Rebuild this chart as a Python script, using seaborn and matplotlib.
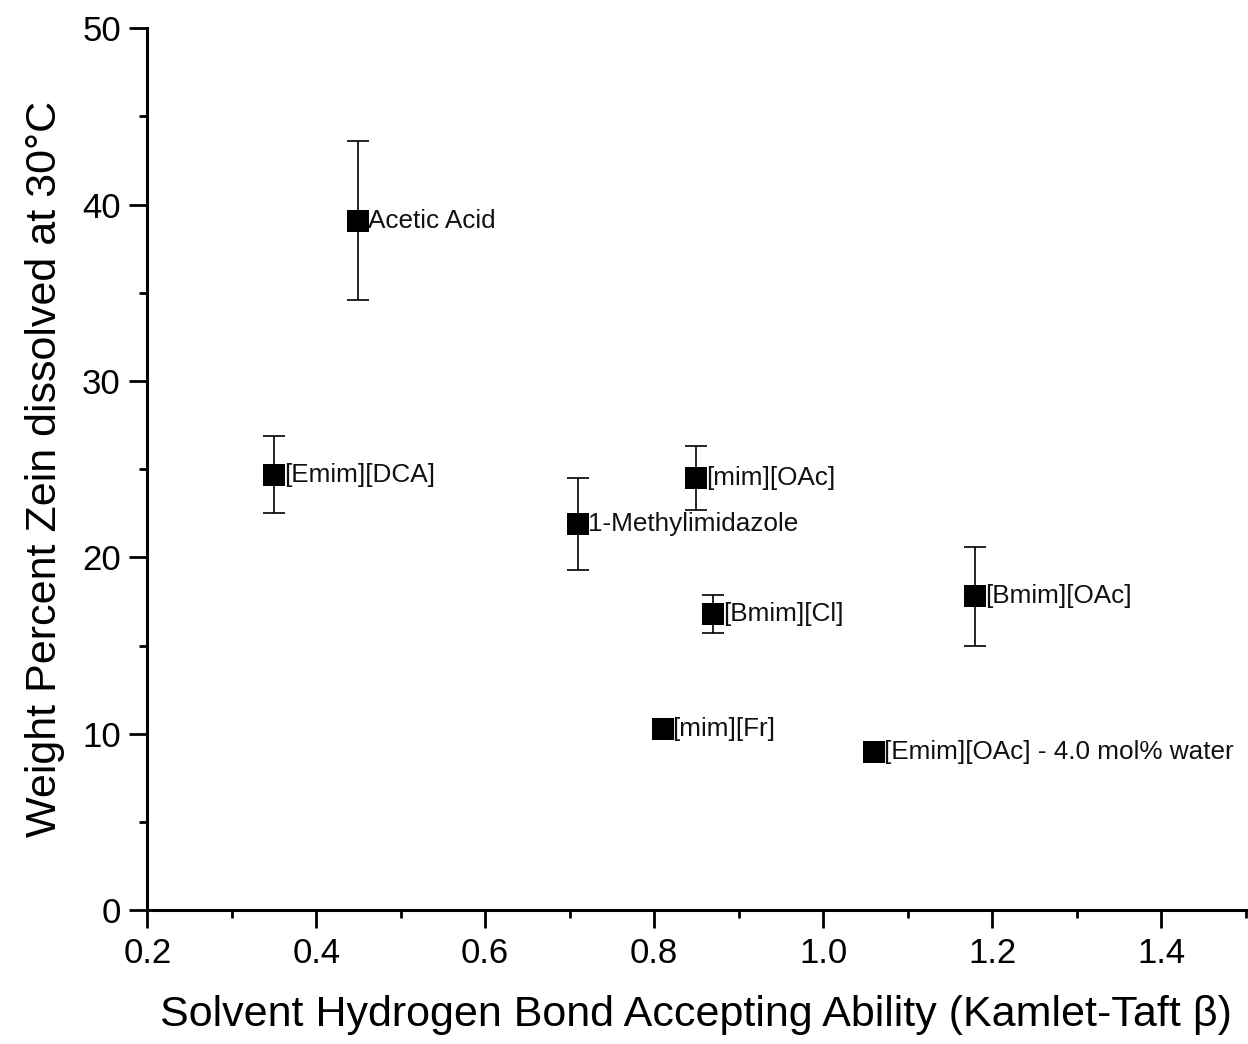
import matplotlib
matplotlib.use("Agg")
import matplotlib.pyplot as plt
import seaborn as sns
import pandas as pd
from matplotlib.ticker import MultipleLocator

solvents = ["Acetic Acid", "[Emim][DCA]", "1-Methylimidazole", "[mim][OAc]",
            "[Bmim][Cl]", "[Bmim][OAc]", "[mim][Fr]", "[Emim][OAc] - 4.0 mol% water"]
beta = [0.45, 0.35, 0.71, 0.85, 0.87, 1.18, 0.81, 1.06]
zein = [39.1, 24.7, 21.9, 24.5, 16.8, 17.8, 10.3, 9.0]
err_lo = [4.5, 2.2, 2.6, 1.8, 1.1, 2.8, 0.0, 0.0]
err_hi = [4.5, 2.2, 2.6, 1.8, 1.1, 2.8, 0.0, 0.0]

df = pd.DataFrame({"solvent": solvents, "beta": beta, "zein": zein,
                   "lo": err_lo, "hi": err_hi})

sns.set_style("ticks")
plt.rcParams["font.family"] = ["Liberation Sans", "DejaVu Sans"]

fig = plt.figure(figsize=(12.48, 10.44), dpi=100)
ax = fig.add_axes([0.118, 0.128, 0.88, 0.845])

eb = df[df["hi"] > 0]
ax.errorbar(eb["beta"], eb["zein"], yerr=[eb["lo"], eb["hi"]], fmt="none",
            ecolor="black", elinewidth=1.2, capsize=8, capthick=1.2, zorder=2)
sns.scatterplot(data=df, x="beta", y="zein", marker="s", s=230, color="black",
                edgecolor="black", linewidth=0, ax=ax, zorder=3)

for _, r in df.iterrows():
    ax.annotate(r["solvent"], (r["beta"], r["zein"]), xytext=(7, 0),
                textcoords="offset points", ha="left", va="center",
                fontsize=18.8, color="#111111")

ax.set_xlim(0.2, 1.5)
ax.set_ylim(0, 50)
ax.xaxis.set_major_locator(MultipleLocator(0.2))
ax.xaxis.set_minor_locator(MultipleLocator(0.1))
ax.yaxis.set_major_locator(MultipleLocator(10))
ax.yaxis.set_minor_locator(MultipleLocator(5))
ax.set_xticks([0.2, 0.4, 0.6, 0.8, 1.0, 1.2, 1.4])
ax.set_xticklabels(["0.2", "0.4", "0.6", "0.8", "1.0", "1.2", "1.4"])

ax.tick_params(axis="both", which="major", length=13, width=2, labelsize=25,
               direction="out", pad=6, color="black", labelcolor="black")
ax.tick_params(axis="both", which="minor", length=6, width=2, direction="out",
               color="black")
for s in ["left", "bottom"]:
    ax.spines[s].set_linewidth(2.2)
    ax.spines[s].set_color("black")
ax.spines["top"].set_visible(False)
ax.spines["right"].set_visible(False)

ax.set_xlabel("Solvent Hydrogen Bond Accepting Ability (Kamlet-Taft β)",
              fontsize=31, labelpad=18, color="black")
ax.set_ylabel("Weight Percent Zein dissolved at 30°C", fontsize=31,
              labelpad=12, color="black")

fig.savefig("out.png", dpi=100)
